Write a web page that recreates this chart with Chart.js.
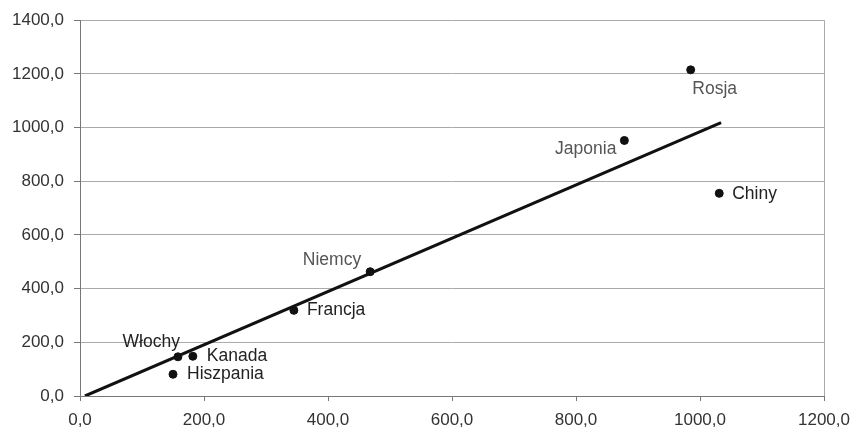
<!DOCTYPE html>
<html>
<head>
<meta charset="utf-8">
<script src="https://cdn.jsdelivr.net/npm/chart.js@4"></script>
<style>
  html, body { margin: 0; padding: 0; background: #fff; }
  #wrap { width: 854px; height: 432px; }
</style>
</head>
<body>
<div id="wrap"><canvas id="chart"></canvas></div>
<script>
// country labels and their values
const countries = ["Rosja", "Japonia", "Chiny", "Niemcy", "Francja", "Włochy", "Kanada", "Hiszpania"];
const xValues = [985, 878, 1031, 468, 345, 158, 182, 150];
const yValues = [1215, 952, 755, 463, 319, 146, 148, 81];
// trend line ends
const trendX = [8, 1034];
const trendY = [0, 1018];

const fmt = v => v.toFixed(1).replace(".", ",");

const points = xValues.map((x, i) => ({ x: x, y: yValues[i] }));
const trend = trendX.map((x, i) => ({ x: x, y: trendY[i] }));

// label placement: [align, dx, dy, colour]
const labelStyle = [
  ["center", 24, 19, "#555"],
  ["right", -8, 9, "#555"],
  ["left", 13, 1, "#222"],
  ["right", -9, -12, "#555"],
  ["left", 13, 0, "#222"],
  ["right", 2, -15, "#222"],
  ["left", 14, 0, "#222"],
  ["left", 14, 0, "#222"]
];

// draw the country names beside the points
const labelPlugin = {
  id: "pointLabels",
  afterDatasetsDraw(chart) {
    const ctx = chart.ctx;
    const xs = chart.scales.x, ys = chart.scales.y;
    ctx.save();
    ctx.font = "17.5px 'Liberation Sans', Arial, sans-serif";
    ctx.textBaseline = "middle";
    countries.forEach((name, i) => {
      const st = labelStyle[i];
      const px = xs.getPixelForValue(xValues[i]);
      const py = ys.getPixelForValue(yValues[i]);
      ctx.textAlign = st[0];
      ctx.fillStyle = st[3];
      ctx.fillText(name, px + st[1], py + st[2]);
    });
    ctx.restore();
  }
};

new Chart(document.getElementById("chart"), {
  type: "scatter",
  data: {
    datasets: [{
      label: "Kraje",
      data: points,
      backgroundColor: "#111",
      borderColor: "#111",
      pointRadius: 4,
      pointHoverRadius: 4
    }, {
      type: "line",
      label: "Trend",
      data: trend,
      borderColor: "#111",
      borderWidth: 3,
      pointRadius: 0,
      fill: false
    }]
  },
  options: {
    responsive: true,
    maintainAspectRatio: false,
    animation: false,
    layout: { padding: { top: 17, right: 30, left: 0, bottom: 0 } },
    plugins: { legend: { display: false }, tooltip: { enabled: false } },
    scales: {
      x: {
        type: "linear",
        min: 0, max: 1200,
        afterFit: s => { s.height = 36; s.paddingRight = 0; s.paddingLeft = 0; },
        border: { color: "#777", width: 1 },
        grid: {
          color: c => (c.tick && c.tick.value === 1200 ? "#aaa" : "rgba(0,0,0,0)"),
          tickColor: "#777",
          tickLength: 5
        },
        ticks: {
          stepSize: 200,
          color: "#333",
          font: { family: "'Liberation Sans', Arial, sans-serif", size: 17 },
          padding: 9,
          maxRotation: 0,
          callback: v => fmt(v)
        }
      },
      y: {
        min: 0, max: 1400,
        afterFit: s => { s.width = 80; },
        border: { color: "#777", width: 1 },
        grid: { color: "#aaa", tickColor: "#777", tickLength: 6 },
        ticks: {
          stepSize: 200,
          color: "#333",
          font: { family: "'Liberation Sans', Arial, sans-serif", size: 17 },
          padding: 10,
          callback: v => fmt(v)
        }
      }
    }
  },
  plugins: [labelPlugin]
});
</script>
</body>
</html>
